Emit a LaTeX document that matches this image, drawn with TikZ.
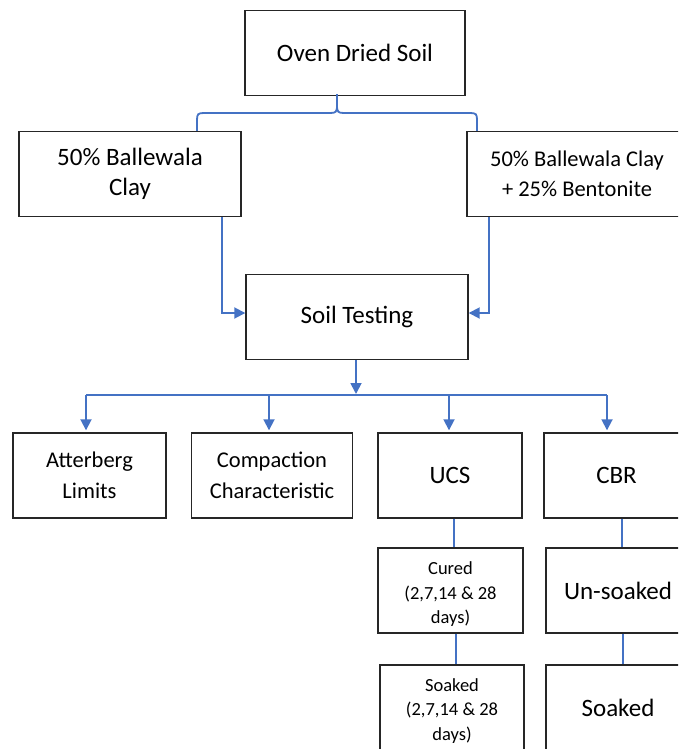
\documentclass[tikz,border=0pt]{standalone}
\usepackage{fontspec}
\setmainfont{Carlito}
\usetikzlibrary{arrows.meta}
\definecolor{linkblue}{HTML}{4472C4}
\begin{document}
\begin{tikzpicture}[x=1pt,y=-1pt,
  box/.style={draw=black!85,line width=1.4pt,minimum height=85pt,inner sep=0pt,align=center,font=\fontsize{25}{30.5}\selectfont},
  tightbox/.style={box,font=\fontsize{22.5}{30.5}\selectfont},
  smallbox/.style={box,font=\fontsize{18.5}{24.5}\selectfont},
  conn/.style={draw=linkblue,line width=1.8pt},
  arr/.style={conn,-{Triangle[length=11pt,width=11pt]}}]
\useasboundingbox (0,0) rectangle (678,749);
\clip (0,0) rectangle (678,749);

% nodes
\node[box,minimum width=220pt] (oven) at (355,53) {Oven Dried Soil};
\node[box,minimum width=222pt] (clay) at (130,174) {50\% Ballewala\\Clay};
\node[tightbox,minimum width=220pt] (bent) at (577,174) {50\% Ballewala Clay\\+ 25\% Bentonite};
\node[box,minimum width=222pt] (soil) at (357,317) {Soil Testing};
\node[tightbox,minimum width=153pt] (atter) at (89.5,475.5) {Atterberg\\Limits};
\node[tightbox,minimum width=160.5pt] (comp) at (272,475.5) {Compaction\\Characteristic};
\node[box,minimum width=144pt] (ucs) at (450,475.5) {UCS};
\node[box,minimum width=145pt] (cbr) at (616.5,475.5) {CBR};
\node[smallbox,minimum width=145pt] (cured) at (450.5,590.5) {\rule{0pt}{20pt}Cured\\(2,7,14 \& 28\\days)};
\node[box,minimum width=144pt] (unsoak) at (618,590.5) {Un-soaked};
\node[smallbox,minimum width=144pt] (soaku) at (452,707.5) {\rule{0pt}{19pt}Soaked\\(2,7,14 \& 28\\days)};
\node[box,minimum width=144pt] (soakc) at (618,707.5) {Soaked};

% brace from oven to the two mixes
\coordinate (braceT) at ([xshift=-18pt,yshift=2pt]oven.south);
\coordinate (braceL) at ([xshift=67pt]clay.north);
\coordinate (braceR) at ([xshift=-100pt]bent.north);
\draw[conn] (braceL) -- (197,120) .. controls (197,114) and (198,113) .. (204,113)
  -- (330,113) .. controls (336,113) and (337,112) .. (337,105) -- (braceT);
\draw[conn] (337,105) .. controls (337,112) and (338,113) .. (344,113)
  -- (470,113) .. controls (476,113) and (477,114) .. (477,120) -- (braceR);

% mixes to soil testing
\draw[arr] ([xshift=92pt]clay.south) |- ([yshift=4pt]soil.west);
\draw[arr] ([xshift=-88pt]bent.south) |- ([yshift=4pt]soil.east);

% soil testing to tests
\coordinate (b1) at (86,395);
\coordinate (b2) at (269,395);
\coordinate (b3) at (449,395);
\coordinate (b4) at (607,395);
\draw[arr] ([xshift=-1pt]soil.south) -- ([xshift=-1pt,yshift=1pt]soil.south |- b1);
\draw[conn] (b1) -- (b4);
\draw[arr] (b1) -- ([yshift=2pt]b1 |- atter.north);
\draw[arr] (b2) -- ([yshift=2pt]b2 |- comp.north);
\draw[arr] (b3) -- ([yshift=2pt]b3 |- ucs.north);
\draw[arr] (b4) -- ([yshift=2pt]b4 |- cbr.north);

% sub-branches
\draw[conn] ([xshift=4pt]ucs.south) -- ([xshift=4pt]ucs.south |- cured.north);
\draw[conn] ([xshift=5.5pt]cbr.south) -- ([xshift=5.5pt]cbr.south |- unsoak.north);
\draw[conn] ([xshift=4pt]soaku.north |- cured.south) -- ([xshift=4pt]soaku.north);
\draw[conn] ([xshift=5pt]soakc.north |- unsoak.south) -- ([xshift=5pt]soakc.north);
\end{tikzpicture}
\end{document}
